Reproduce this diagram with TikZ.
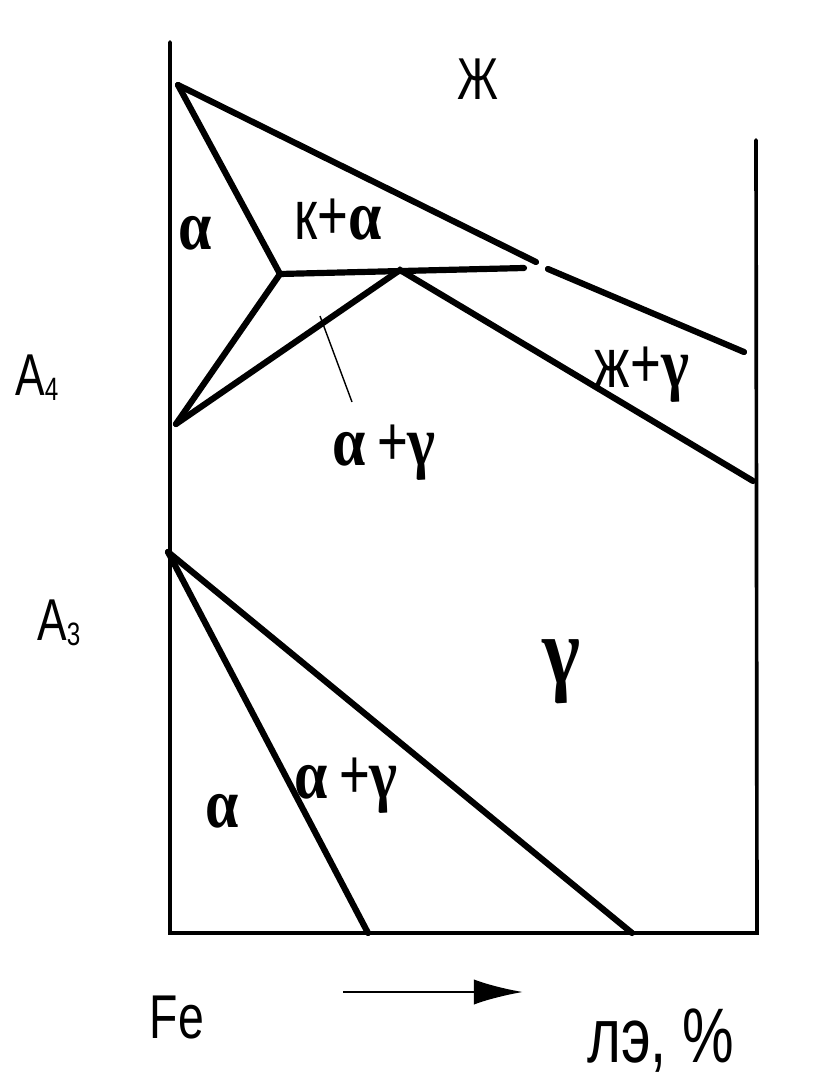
\documentclass[tikz,border=0pt]{standalone}
\usepackage{fontspec}
\setmainfont{Liberation Sans}[FakeStretch=0.75]
\newfontfamily\grfont{Liberation Serif}[FakeStretch=0.85]
\usetikzlibrary{arrows.meta}
\newcommand{\gr}[1]{{\grfont\bfseries\fontsize{50}{50}\selectfont #1}}
\newcommand{\subidx}[1]{\raisebox{-4pt}{\fontsize{23}{23}\selectfont #1}}

\begin{document}
\begin{tikzpicture}[
  x=0.025cm, y=-0.025cm,
  axisline/.style={line width=2.6pt, line cap=round},
  bnd/.style={line width=4.4pt, line cap=round},
  lead/.style={line width=1pt},
  lbl/.style={inner sep=0pt, anchor=base, font=\fontsize{50}{50}\selectfont},
  arr/.style={-{Latex[length=35pt, width=18pt]}, line width=2pt}
]
  \useasboundingbox (0,0) rectangle (824,1082);

  %% frame of the diagram
  \coordinate (topL)   at (170, 42);
  \coordinate (origin) at (170, 933);
  \coordinate (endR)   at (757, 933);
  \coordinate (topR)   at (756, 140);
  \draw[axisline] (topL) -- (origin) -- (endR) -- (topR);

  %% upper part: delta / liquid region
  \coordinate (A4top)  at (178, 85);
  \coordinate (tri)    at (280, 274);
  \coordinate (A4bot)  at (176, 424);
  \coordinate (peak)   at (400, 270);
  \coordinate (hEnd)   at (524, 268);
  \coordinate (gapA)   at (536, 262);
  \coordinate (gapB)   at (548, 269);
  \coordinate (liqR)   at (744, 352);
  \coordinate (solR)   at (753, 481);
  \draw[bnd] (A4top) -- (gapA);
  \draw[bnd] (gapB)  -- (liqR);
  \draw[bnd] (A4top) -- (tri) -- (A4bot);
  \draw[bnd] (tri)   -- (hEnd);
  \draw[bnd] (A4bot) -- (peak) -- (solR);

  %% leader for the narrow two-phase field
  \coordinate (leadA) at (320, 316);
  \coordinate (leadB) at (352, 402);
  \draw[lead] (leadA) -- (leadB);

  %% lower part: A3 lines
  \coordinate (A3)    at (168, 552);
  \coordinate (bot1)  at (368, 933);
  \coordinate (bot2)  at (632, 933);
  \draw[bnd] (A3) -- (bot1);
  \draw[bnd] (A3) -- (bot2);

  %% phase labels
  \node[lbl, font=\fontsize{42}{42}\selectfont] (liq) at (478, 100) {Ж};
  \node[lbl] (alUp)   at (195, 250) {\gr{α}};
  \node[lbl] (kal)    at (338, 240) {к+\gr{α}};
  \node[lbl] (lgam)   at (642, 387) {ж+\gr{γ}};
  \node[lbl] (agUp)   at (384, 465) {\gr{α}\,+\gr{γ}};
  \node[lbl] (gam)    at (561, 683) {\gr{\fontsize{68}{68}\selectfont γ}};
  \node[lbl] (alLo)   at (222, 827) {\gr{α}};
  \node[lbl] (agLo)   at (346, 798) {\gr{α}\,+\gr{γ}};

  %% temperature points
  \node[lbl, anchor=base west, font=\fontsize{42}{42}\selectfont] (A4lbl) at (15, 395) {A\subidx{4}};
  \node[lbl, anchor=base west, font=\fontsize{42}{42}\selectfont] (A3lbl) at (37, 640) {A\subidx{3}};

  %% axis captions
  \node[lbl, font=\fontsize{44}{44}\selectfont] (fe) at (177, 1038) {Fe};
  \node[lbl, font=\fontsize{55}{55}\selectfont] (le) at (661, 1062) {лэ, \%};
  \coordinate (arrS) at (343, 992);
  \coordinate (arrE) at (523, 992);
  \draw[arr] (arrS) -- (arrE);
\end{tikzpicture}
\end{document}
